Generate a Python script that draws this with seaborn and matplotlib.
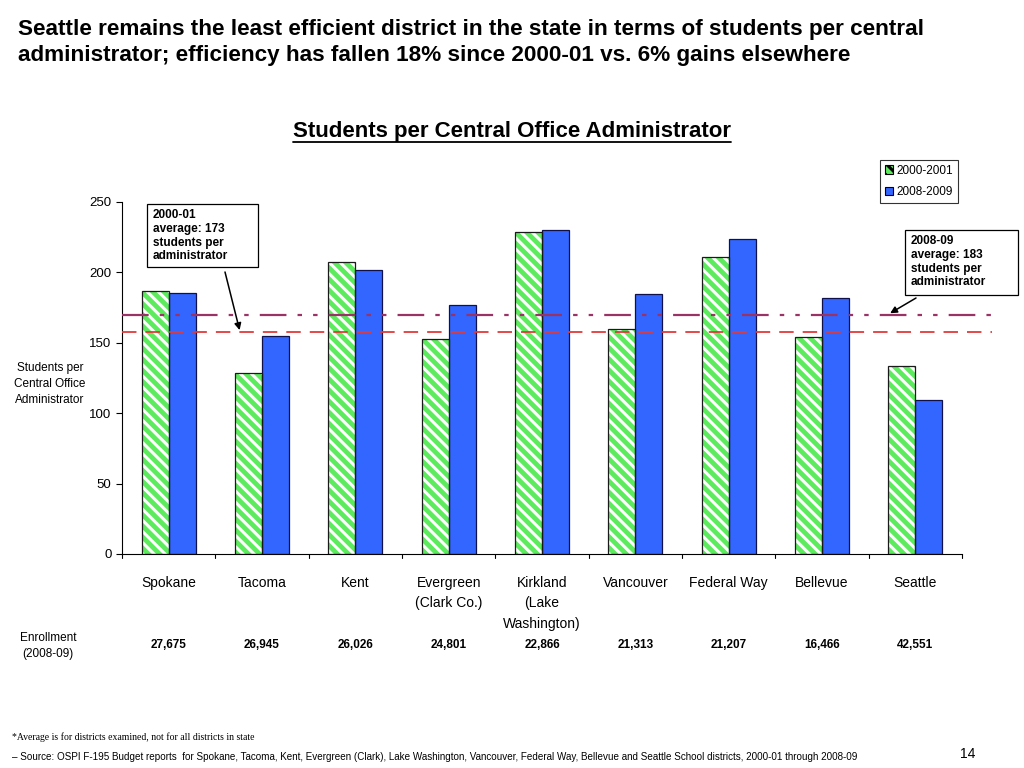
import matplotlib
matplotlib.use("Agg")
import matplotlib.pyplot as plt
import matplotlib.patches as mpatches
from matplotlib.lines import Line2D
import numpy as np
import pandas as pd
import seaborn as sns

# Data
districts = ["Spokane", "Tacoma", "Kent", "Evergreen\n(Clark Co.)", "Kirkland\n(Lake\nWashington)",
             "Vancouver", "Federal Way", "Bellevue", "Seattle"]
vals_2000 = [187, 128.5, 207.5, 153, 228.5, 160, 211, 154, 133.5]
vals_2008 = [185.5, 155, 201.5, 177, 230, 184.5, 223.5, 182, 109.5]
enrollment = ["27,675", "26,945", "26,026", "24,801", "22,866", "21,313", "21,207", "16,466", "42,551"]
avg_2000_line = 158
avg_2008_line = 170
years = ["2000-2001", "2008-2009"]

df = pd.DataFrame({
    "district": districts * 2,
    "value": vals_2000 + vals_2008,
    "year": [years[0]] * len(districts) + [years[1]] * len(districts),
})

sns.set_style("white")
plt.rcParams["font.family"] = ["Liberation Sans", "DejaVu Sans"]
plt.rcParams["hatch.linewidth"] = 2.2
for k in ["text.color", "axes.labelcolor", "xtick.color", "ytick.color"]:
    plt.rcParams[k] = "black"

green = "#5CEB5C"
blue = "#3366FF"

fig = plt.figure(figsize=(10.24, 7.68), dpi=100)
ax = fig.add_axes([122 / 1024, 1 - 554 / 768, 840 / 1024, 352 / 768])

sns.barplot(data=df, x="district", y="value", hue="year", palette=[green, blue],
            width=0.58, gap=0, legend=False, ax=ax, saturation=1)

n = len(districts)
for i, p in enumerate(ax.patches[:2 * n]):
    if i < n:
        p.set_facecolor(green)
        p.set_edgecolor("white")
        p.set_hatch("\\\\\\")
        p.set_linewidth(0)
        ax.add_patch(mpatches.Rectangle((p.get_x(), p.get_y()), p.get_width(), p.get_height(),
                                        fill=False, edgecolor="#1a1a1a", linewidth=0.9))
    else:
        p.set_edgecolor("#10104a")
        p.set_linewidth(0.9)

ax.set_ylim(0, 250)
ax.set_yticks([0, 50, 100, 150, 200, 250])
ax.set_xlim(-0.5, n - 0.5)
ax.set_xlabel("")
ax.set_ylabel("")
for s in ["top", "right"]:
    ax.spines[s].set_visible(False)
for s in ["left", "bottom"]:
    ax.spines[s].set_color("black")
    ax.spines[s].set_linewidth(0.8)
ax.tick_params(axis="y", left=True, length=4, labelsize=9.5, width=0.8)
ax.tick_params(axis="x", bottom=False, labelsize=10, pad=12)
for lbl in ax.get_xticklabels():
    lbl.set_linespacing(1.6)
    lbl.set_verticalalignment("top")
# tick marks between categories on the x axis
for b in np.arange(-0.5, n, 1.0):
    ax.plot([b, b], [0, -3], color="black", lw=0.8, clip_on=False)

# average lines (extend past right edge)
ax.axhline(avg_2008_line, xmin=0, xmax=1.036, color="#993366", lw=1.6,
           linestyle=(0, (12, 5, 2, 5, 2, 5)), clip_on=False, zorder=5)
ax.axhline(avg_2000_line, xmin=0, xmax=1.036, color="#E03A3A", lw=1.3,
           linestyle=(0, (8, 5)), clip_on=False, zorder=5)

# annotation boxes (fixed size like the slide callouts)
def callout(x0, y0, x1, y1, text):
    fig.add_artist(mpatches.Rectangle((x0 / 1024, 1 - y1 / 768), (x1 - x0) / 1024, (y1 - y0) / 768,
                                      transform=fig.transFigure, facecolor="white",
                                      edgecolor="black", linewidth=0.9, zorder=6))
    fig.text((x0 + 6) / 1024, 1 - (y0 + 5) / 768, text, fontsize=8.5, fontweight="bold",
             va="top", ha="left", linespacing=1.2, zorder=7)

callout(147, 204, 258, 267, "2000-01\naverage: 173\nstudents per\nadministrator")
callout(905, 230, 1018, 295, "2008-09\naverage: 183\nstudents per\nadministrator")
ax.annotate("", xy=(0.76, avg_2000_line + 1), xytext=(225 / 1024, 1 - 272 / 768),
            textcoords="figure fraction",
            arrowprops=dict(arrowstyle="-|>", color="black", lw=1.1, mutation_scale=10,
                            shrinkA=0, shrinkB=0))
ax.annotate("", xy=(7.73, avg_2008_line + 1), xytext=(916 / 1024, 1 - 298 / 768),
            textcoords="figure fraction", annotation_clip=False,
            arrowprops=dict(arrowstyle="-|>", color="black", lw=1.1, mutation_scale=10,
                            shrinkA=0, shrinkB=0))

# legend
handles = [mpatches.Patch(facecolor=green, edgecolor="black", hatch="\\\\\\", linewidth=0.8),
           mpatches.Patch(facecolor=blue, edgecolor="black", linewidth=0.8)]
leg = fig.legend(handles, years, loc="upper right", bbox_to_anchor=(964 / 1024, 1 - 154 / 768),
                 fontsize=8.5, frameon=True, fancybox=False, edgecolor="black",
                 handlelength=0.7, handleheight=0.7, handletextpad=0.3,
                 labelspacing=0.8, borderpad=0.4)
leg.get_frame().set_linewidth(0.8)

# y label
fig.text(50 / 1024, 1 - 384 / 768, "Students per\nCentral Office\nAdministrator",
         fontsize=8.5, ha="center", va="center", linespacing=1.4)

# enrollment row
fig.text(48 / 1024, 1 - 646 / 768, "Enrollment\n(2008-09)", fontsize=8.5, ha="center",
         va="center", linespacing=1.4)
for i, e in enumerate(enrollment):
    x_fig = fig.transFigure.inverted().transform(ax.transData.transform((i, 0)))[0]
    fig.text(x_fig, 1 - 645 / 768, e, fontsize=8.5, fontweight="bold", ha="center", va="center")

# headline
fig.text(18 / 1024, 1 - 19 / 768,
         "Seattle remains the least efficient district in the state in terms of students per central\n"
         "administrator; efficiency has fallen 18% since 2000-01 vs. 6% gains elsewhere",
         fontsize=16.2, fontweight="bold", ha="left", va="top", linespacing=1.3)

# chart title, underlined
t = fig.text(0.5, 1 - 131 / 768, "Students per Central Office Administrator",
             fontsize=16, fontweight="bold", ha="center", va="center")
fig.canvas.draw()
bb = t.get_window_extent().transformed(fig.transFigure.inverted())
fig.add_artist(Line2D([bb.x0, bb.x1], [bb.y0 - 0.001, bb.y0 - 0.001], color="black", lw=1.3,
                      transform=fig.transFigure))

# footnotes
fig.text(12 / 1024, 1 - 737 / 768, "*Average is for districts examined, not for all districts in state",
         fontsize=7, family=["Liberation Serif", "DejaVu Serif"], ha="left", va="center")
fig.text(12 / 1024, 1 - 757 / 768,
         "\u2013 Source: OSPI F-195 Budget reports  for Spokane, Tacoma, Kent, Evergreen (Clark), Lake Washington, "
         "Vancouver, Federal Way, Bellevue and Seattle School districts, 2000-01 through 2008-09",
         fontsize=7.15, ha="left", va="center")
fig.text(968 / 1024, 1 - 754 / 768, "14", fontsize=10, ha="center", va="center")

fig.savefig("out.png", dpi=100)
